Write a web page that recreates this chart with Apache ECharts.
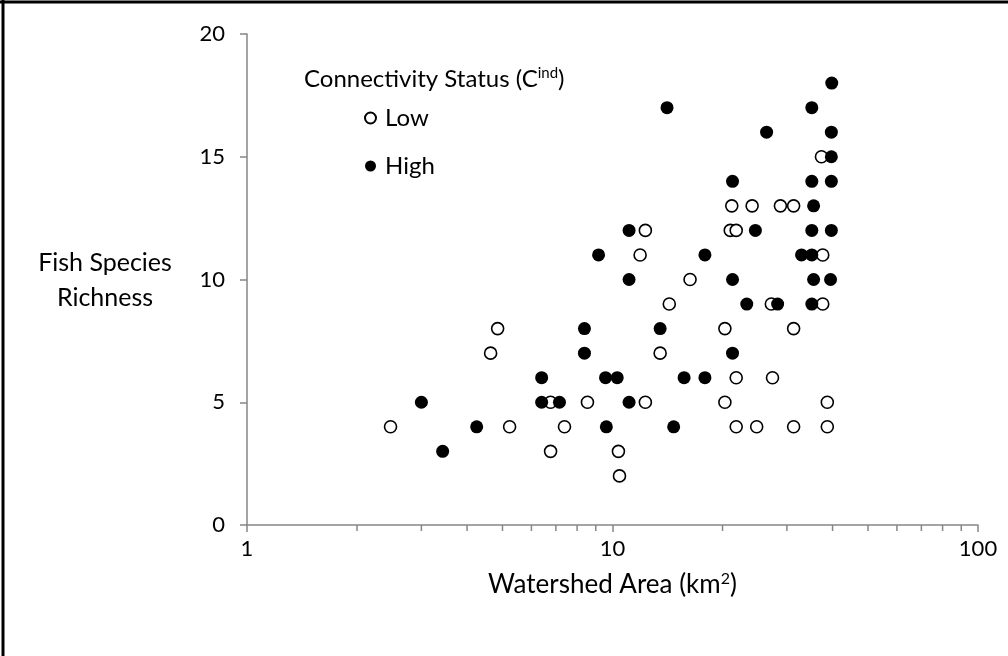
<!DOCTYPE html>
<html>
<head>
<meta charset="utf-8">
<script src="https://cdn.jsdelivr.net/npm/echarts@6/dist/echarts.min.js"></script>
<style>
html,body{margin:0;padding:0;background:#fff;}
#c{width:1008px;height:656px;}
</style>
</head>
<body>
<div id="c"></div>
<script>
// Low connectivity: watershed area (km2) and fish species richness
const lowArea = [10.45, 6.77, 10.38, 2.47, 5.23, 7.39, 21.8, 24.8, 31.3, 38.7,
  6.77, 8.54, 12.3, 20.3, 38.7, 21.8, 27.4, 4.64, 13.5, 4.85, 20.3, 31.3,
  14.3, 27.2, 37.6, 16.3, 11.9, 37.6, 12.3, 21.0, 21.8, 21.2, 24.1, 28.8, 31.3, 37.3];
const lowRichness = [2, 3, 3, 4, 4, 4, 4, 4, 4, 4,
  5, 5, 5, 5, 5, 6, 6, 7, 7, 8, 8, 8,
  9, 9, 9, 10, 11, 11, 12, 12, 12, 13, 13, 13, 13, 15];
// High connectivity
const highArea = [3.43, 4.25, 9.62, 14.7, 3.0, 6.40, 7.16, 11.1,
  6.40, 9.57, 10.3, 15.7, 17.9, 8.38, 21.3, 8.38, 13.5,
  23.3, 28.3, 35.1, 11.1, 21.3, 35.5, 39.5, 9.16, 17.9, 32.9, 35.1,
  11.1, 24.6, 35.1, 39.7, 35.5, 21.3, 35.1, 39.7, 39.7, 26.4, 39.7, 14.1, 35.1, 39.8];
const highRichness = [3, 4, 4, 4, 5, 5, 5, 5,
  6, 6, 6, 6, 6, 7, 7, 8, 8,
  9, 9, 9, 10, 10, 10, 10, 11, 11, 11, 11,
  12, 12, 12, 12, 13, 14, 14, 14, 15, 16, 16, 17, 17, 18];
const minorTickValues = [2, 3, 4, 5, 6, 7, 8, 9, 20, 30, 40, 50, 60, 70, 80, 90];
const xTickLabels = [1, 10, 100];
const yTickStep = 5;

const FONT = 'Lato';
const AXIS_COLOR = '#868686';

const zip = (a, b) => a.map((v, i) => [v, b[i]]);

const chart = echarts.init(document.getElementById('c'), null, {renderer: 'canvas'});
chart.setOption({
  backgroundColor: '#fff',
  animation: false,
  textStyle: {fontFamily: FONT},
  title: {
    left: 304, top: 66, padding: 0,
    text: 'Connectivity Status (C{sup|ind})',
    textStyle: {
      fontFamily: FONT, fontSize: 24, fontWeight: 'normal', color: '#000',
      rich: {sup: {fontFamily: FONT, fontSize: 15, verticalAlign: 'top', padding: [0,0,12,0], color: '#000'}}
    }
  },
  legend: {
    left: 364, top: 106, orient: 'vertical', itemGap: 24, padding: 0,
    itemWidth: 11, itemHeight: 11, icon: 'circle',
    textStyle: {fontFamily: FONT, fontSize: 24, color: '#000', padding: [0,0,0,4]},
    data: ['Low', 'High']
  },
  grid: {left: 247, right: 30, top: 34, bottom: 131, containLabel: false},
  xAxis: {
    type: 'log', logBase: 10, min: 1, max: 100,
    name: 'Watershed Area (km{sup|2})', nameLocation: 'middle', nameGap: 46,
    nameTextStyle: {fontFamily: FONT, fontSize: 26, color: '#000',
      rich: {sup: {fontFamily: FONT, fontSize: 16, verticalAlign: 'top', padding: [0,0,12,0], color: '#000'}}},
    axisLine: {show: true, lineStyle: {color: AXIS_COLOR, width: 1.5}},
    axisTick: {show: true, inside: false, length: 7, lineStyle: {color: AXIS_COLOR, width: 1.5},
      customValues: xTickLabels},
    axisLabel: {fontFamily: FONT, fontSize: 22, color: '#000', margin: 13,
      customValues: xTickLabels, formatter: v => String(v)},
    splitLine: {show: false}
  },
  yAxis: {
    type: 'value', min: 0, max: 20, interval: yTickStep,
    axisLine: {show: true, lineStyle: {color: AXIS_COLOR, width: 1.5}},
    axisTick: {show: true, inside: false, length: 7, lineStyle: {color: AXIS_COLOR, width: 1.5}},
    axisLabel: {fontFamily: FONT, fontSize: 22, color: '#000', margin: 22},
    splitLine: {show: false}
  },
  graphic: [
    {type: 'line', shape: {x1: 0, y1: 2, x2: 1008, y2: 2}, style: {stroke: '#000', lineWidth: 3}},
    {type: 'line', shape: {x1: 3, y1: 0, x2: 3, y2: 656}, style: {stroke: '#000', lineWidth: 3}},
    {type: 'text', x: 105, y: 280, style: {
      text: 'Fish Species\nRichness', font: '25px ' + FONT, fill: '#000',
      align: 'center', verticalAlign: 'middle', lineHeight: 35
    }}
  ],
  series: [
    {
      name: 'Low', type: 'scatter', symbol: 'circle', symbolSize: 12,
      itemStyle: {color: '#fff', borderColor: '#000', borderWidth: 1.6, opacity: 1},
      data: zip(lowArea, lowRichness), z: 2
    },
    {
      name: 'High', type: 'scatter', symbol: 'circle', symbolSize: 13,
      itemStyle: {color: '#000', borderColor: '#000', borderWidth: 0, opacity: 1},
      data: zip(highArea, highRichness), z: 3
    },
    {
      name: 'minorTicks', type: 'custom', silent: true, clip: false,
      data: minorTickValues.map(v => [v, 0]),
      renderItem: function (params, api) {
        const p = api.coord([api.value(0), api.value(1)]);
        return {type: 'line', shape: {x1: p[0], y1: p[1], x2: p[0], y2: p[1] + 6},
          style: {stroke: AXIS_COLOR, lineWidth: 1.5}};
      },
      z: 1
    }
  ]
});
</script>
</body>
</html>
